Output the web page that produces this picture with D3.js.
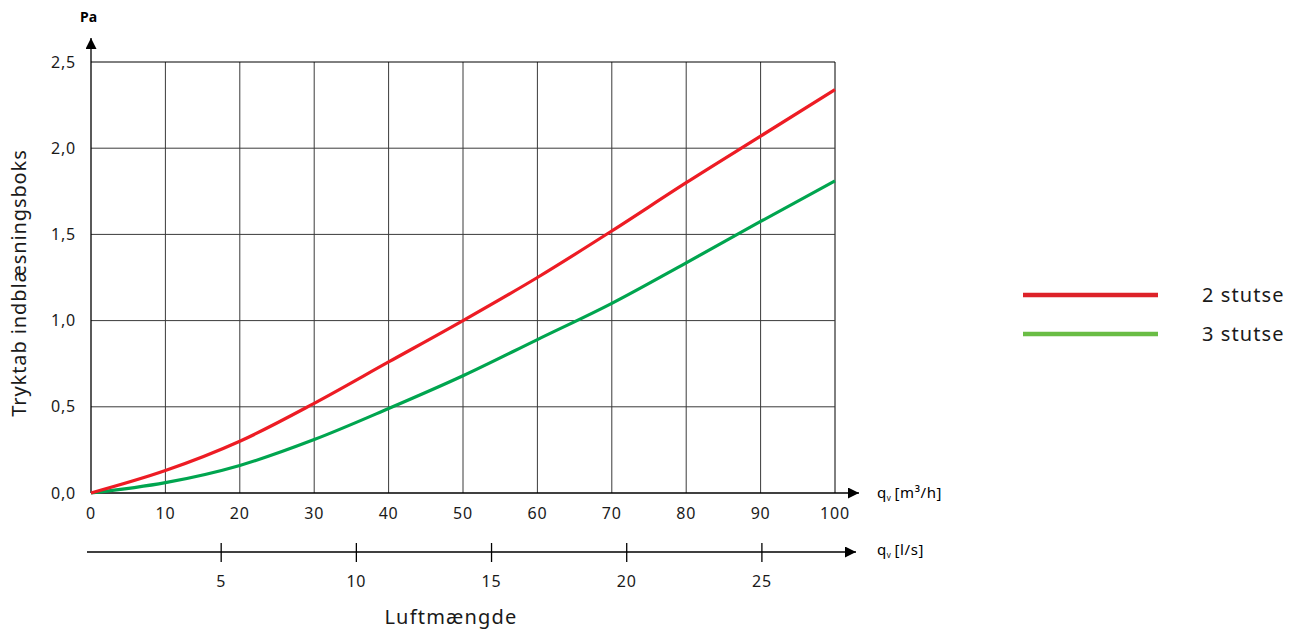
<!DOCTYPE html>
<html>
<head>
<meta charset="utf-8">
<script src="https://cdn.jsdelivr.net/npm/d3@7/dist/d3.min.js"></script>
<style>
  html, body { margin: 0; padding: 0; background: #fff; }
  svg { display: block; font-family: "Noto Sans", "DejaVu Sans", sans-serif; }
</style>
</head>
<body>
<svg id="chart" width="1290" height="629"></svg>
<script>
// ---- data ----
const flowM3h = [0, 10, 20, 30, 40, 50, 60, 70, 80, 90, 100];
const stutse2 = [0, 0.13, 0.30, 0.52, 0.76, 1.00, 1.25, 1.52, 1.80, 2.07, 2.34];
const stutse3 = [0, 0.06, 0.16, 0.31, 0.49, 0.68, 0.89, 1.10, 1.335, 1.575, 1.81];
const seriesNames = ["2 stutse", "3 stutse"];
const yTicks = [0, 0.5, 1.0, 1.5, 2.0, 2.5];
const xTicks = [0, 10, 20, 30, 40, 50, 60, 70, 80, 90, 100];
const lsTicks = [5, 10, 15, 20, 25];

const svg = d3.select("#chart");
const x = d3.scaleLinear().domain([0, 100]).range([91, 835]);
const y = d3.scaleLinear().domain([0, 2.5]).range([493, 62]);
const xls = d3.scaleLinear().domain([0, 100 / 3.6]).range([86, 837]);
const fmt = d => d3.format(".1f")(d).replace(".", ",");

const lineCol = "#ed1c24", greenCol = "#00a54f";
const legendCols = ["#dd2229", "#6abd45"];
const txtCol = "#1a1a1a";

// grid
const g = svg.append("g");
g.selectAll(".vg").data(xTicks.slice(1)).join("line")
  .attr("x1", d => x(d)).attr("x2", d => x(d)).attr("y1", y(0)).attr("y2", y(2.5))
  .attr("stroke", d => d === 100 ? "#000" : "#3a3a3a").attr("stroke-width", 1);
g.selectAll(".hg").data(yTicks.slice(1)).join("line")
  .attr("x1", x(0)).attr("x2", x(100)).attr("y1", d => y(d)).attr("y2", d => y(d))
  .attr("stroke", d => d === 2.5 ? "#000" : "#3a3a3a").attr("stroke-width", 1);

// arrow marker
const defs = svg.append("defs");
defs.append("marker").attr("id", "arr").attr("viewBox", "0 0 10 10")
  .attr("refX", 10).attr("refY", 5).attr("markerWidth", 11).attr("markerHeight", 11)
  .attr("markerUnits", "userSpaceOnUse").attr("orient", "auto")
  .append("path").attr("d", "M0,0 L10,5 L0,10 Z").attr("fill", "#000");

// axes lines
svg.append("line").attr("x1", x(0)).attr("x2", x(0)).attr("y1", y(0)).attr("y2", 38)
  .attr("stroke", "#000").attr("stroke-width", 1.3).attr("marker-end", "url(#arr)");
svg.append("line").attr("x1", x(0)).attr("x2", 859).attr("y1", y(0)).attr("y2", y(0))
  .attr("stroke", "#000").attr("stroke-width", 1.3).attr("marker-end", "url(#arr)");

// y tick labels
svg.selectAll(".yl").data(yTicks).join("text")
  .attr("x", 76).attr("y", d => y(d)).attr("dy", "0.35em").attr("text-anchor", "end")
  .attr("font-size", 16).attr("letter-spacing", 0.8).attr("fill", txtCol).text(fmt);
// x tick labels
svg.selectAll(".xl").data(xTicks).join("text")
  .attr("x", d => x(d)).attr("y", 519).attr("text-anchor", "middle")
  .attr("font-size", 16).attr("letter-spacing", 0.8).attr("fill", txtCol).text(d => d);

// secondary axis l/s
svg.append("line").attr("x1", 87).attr("x2", 856).attr("y1", 552).attr("y2", 552)
  .attr("stroke", "#000").attr("stroke-width", 1.3).attr("marker-end", "url(#arr)");
svg.selectAll(".lt").data(lsTicks).join("line")
  .attr("x1", d => xls(d)).attr("x2", d => xls(d)).attr("y1", 543).attr("y2", 562)
  .attr("stroke", "#000").attr("stroke-width", 1.3);
svg.selectAll(".ll").data(lsTicks).join("text")
  .attr("x", d => xls(d)).attr("y", 587).attr("text-anchor", "middle")
  .attr("font-size", 16).attr("letter-spacing", 0.8).attr("fill", txtCol).text(d => d);

// axis unit labels
function qlabel(xp, yp, unit) {
  const t = svg.append("text").attr("x", xp).attr("y", yp).attr("font-size", 15)
    .attr("letter-spacing", 0.6).attr("fill", "#000");
  t.append("tspan").text("q");
  t.append("tspan").attr("font-size", 8).attr("dy", 3).text("v");
  t.append("tspan").attr("dy", -3).attr("dx", 3).text(unit);
}
qlabel(877, 498, "[m³/h]");
qlabel(877, 555, "[l/s]");
svg.append("text").attr("x", 80).attr("y", 22).attr("font-size", 14).attr("font-weight", "bold").text("Pa");

// titles
svg.append("text").attr("transform", "translate(26,283) rotate(-90)").attr("text-anchor", "middle")
  .attr("font-size", 20).attr("letter-spacing", 0.9).attr("fill", txtCol).text("Tryktab indblæsningsboks");
svg.append("text").attr("x", 451).attr("y", 624).attr("text-anchor", "middle")
  .attr("font-size", 20).attr("letter-spacing", 1.2).attr("fill", txtCol).text("Luftmængde");

// curves
const line = d3.line().x((d, i) => x(flowM3h[i])).y(d => y(d)).curve(d3.curveMonotoneX);
svg.append("path").datum(stutse3).attr("d", line).attr("fill", "none")
  .attr("stroke", greenCol).attr("stroke-width", 3.2);
svg.append("path").datum(stutse2).attr("d", line).attr("fill", "none")
  .attr("stroke", lineCol).attr("stroke-width", 3.2);

// legend
const lg = svg.append("g");
const legY = [295, 334];
seriesNames.forEach((n, i) => {
  lg.append("line").attr("x1", 1023).attr("x2", 1158).attr("y1", legY[i]).attr("y2", legY[i])
    .attr("stroke", legendCols[i]).attr("stroke-width", 4.5);
  lg.append("text").attr("x", 1202).attr("y", legY[i]).attr("dy", "0.35em")
    .attr("font-size", 20).attr("letter-spacing", 1.1).attr("fill", txtCol).text(n);
});
</script>
</body>
</html>
